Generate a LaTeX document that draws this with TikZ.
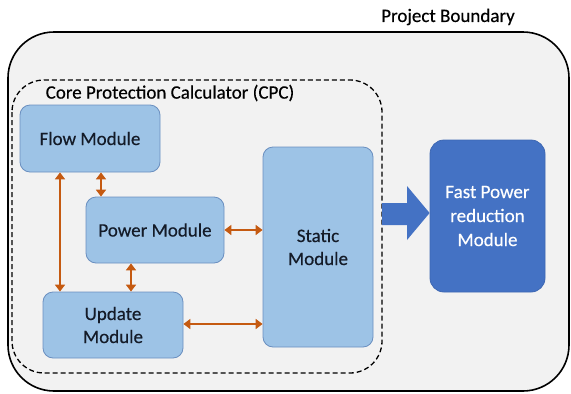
\documentclass[tikz,border=0pt]{standalone}
\usepackage{fontspec}
\setmainfont{Carlito}[FakeBold=0.35]
\usetikzlibrary{arrows.meta}
\definecolor{bgray}{HTML}{F2F2F2}
\definecolor{lblue}{HTML}{9DC3E6}
\definecolor{lborder}{HTML}{6A8FC0}
\definecolor{dblue}{HTML}{4472C4}
\definecolor{dborder}{HTML}{3E68B3}
\definecolor{orng}{HTML}{C55A11}
\definecolor{txt}{HTML}{141B28}
\begin{document}
\begin{tikzpicture}[x=1pt,y=-1pt,
  modbox/.style={draw=lborder,line width=0.8pt,fill=lblue,rounded corners=10pt,text=txt,font=\fontsize{19}{23}\selectfont,align=center,inner sep=0pt},
  fastbox/.style={draw=dborder,line width=0.8pt,fill=dblue,rounded corners=14pt,text=white,font=\fontsize{19}{24}\selectfont,align=center,inner sep=0pt},
  link/.style={draw=orng,line width=2.8pt,{Triangle[length=7pt,width=10pt]}-{Triangle[length=7pt,width=10pt]}},
  lbl/.style={font=\fontsize{19}{23}\selectfont,anchor=center,text=black},
  ]
\useasboundingbox (0,0) rectangle (571,394);
\fill[white] (0,0) rectangle (571,394);
% outer boundary
\draw[fill=bgray,line width=1.6pt,rounded corners=46pt] (8,32) rectangle (569,391);
\node[lbl] (pb) at (448,17) {Project Boundary};
% dashed CPC
\draw[line width=1.3pt,dash pattern=on 5pt off 3pt,rounded corners=32pt] (12,80) rectangle (382,373);
\node[lbl] (cpc) at (170,93) {Core Protection Calculator (CPC)};
% modules
\node[modbox,minimum width=140pt,minimum height=67pt] (flow) at (90,138.5) {Flow Module};
\node[modbox,minimum width=138pt,minimum height=66pt] (power) at (155,230) {Power Module};
\node[modbox,minimum width=140pt,minimum height=66pt] (update) at (113,325) {Update\\Module};
\node[modbox,minimum width=110pt,minimum height=200pt] (static) at (318,247) {Static\\Module};
\node[fastbox,minimum width=115pt,minimum height=152pt] (fast) at (487.5,216) {Fast Power\\reduction\\Module};
% big arrow
\coordinate (a1) at (382,203);
\coordinate (a2) at (407,203);
\coordinate (a3) at (407,186);
\coordinate (a4) at (fast.west |- 0,213);
\coordinate (a5) at (407,240);
\coordinate (a6) at (407,225);
\coordinate (a7) at (382,225);
\fill[dblue] (a1) -- (a2) -- (a3) -- (a4) -- (a5) -- (a6) -- (a7) -- cycle;
% orange links
\draw[link] (flow.south -| 60,0) -- (update.north -| 60,0);
\draw[link] (flow.south -| 101,0) -- (power.north -| 101,0);
\draw[link] (power.south -| 131,0) -- (update.north -| 131,0);
\draw[link] (power.east) -- (static.west |- power.east);
\draw[link] (update.east |- 0,324) -- (static.west |- 0,324);
\end{tikzpicture}
\end{document}
